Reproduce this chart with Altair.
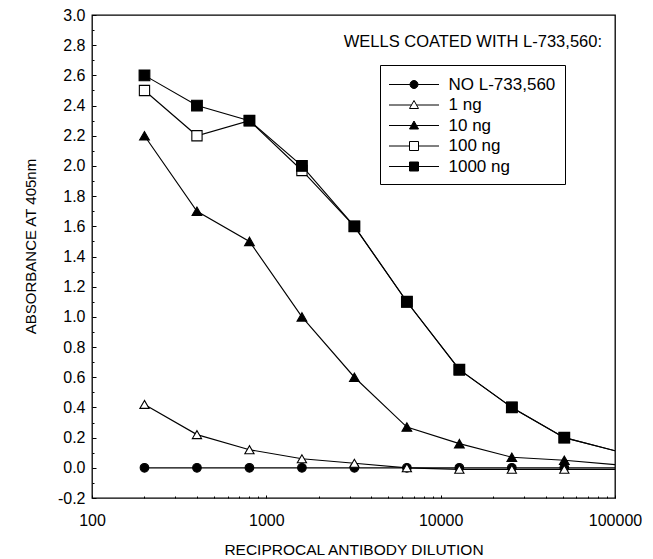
import altair as alt
import pandas as pd

# ---------------- data ----------------
DILUTIONS = [200, 400, 800, 1600, 3200, 6400, 12800, 25600, 51200]
EDGE_DILUTION = 102400  # next point of the series, beyond the right edge (lines run off the frame)

SERIES = ["NO L-733,560", "1 ng", "10 ng", "100 ng", "1000 ng"]
DRAW_ORDER = ["NO L-733,560", "10 ng", "1 ng", "100 ng", "1000 ng"]

NO_ANTIGEN = [0.0, 0.0, 0.0, 0.0, 0.0, 0.0, 0.0, 0.0, 0.0]
ONE_NG = [0.42, 0.22, 0.12, 0.06, 0.03, 0.0, -0.01, -0.01, -0.01]
TEN_NG = [2.2, 1.7, 1.5, 1.0, 0.6, 0.27, 0.16, 0.07, 0.05]
HUNDRED_NG = [2.5, 2.2, 2.3, 1.97, 1.6, 1.1, 0.65, 0.4, 0.2]
THOUSAND_NG = [2.6, 2.4, 2.3, 2.0, 1.6, 1.1, 0.65, 0.4, 0.2]
EDGE_VALUES = {"NO L-733,560": 0.0, "1 ng": -0.01, "10 ng": 0.02, "100 ng": 0.11, "1000 ng": 0.11}

VALUES = {
    "NO L-733,560": NO_ANTIGEN,
    "1 ng": ONE_NG,
    "10 ng": TEN_NG,
    "100 ng": HUNDRED_NG,
    "1000 ng": THOUSAND_NG,
}

X_MAJOR = [100, 1000, 10000, 100000]
X_MINOR = [200, 300, 400, 500, 600, 700, 800, 900,
           2000, 3000, 4000, 5000, 6000, 7000, 8000, 9000,
           20000, 30000, 40000, 50000, 60000, 70000, 80000, 90000]
Y_MAJOR = [-0.2, 0.0, 0.2, 0.4, 0.6, 0.8, 1.0, 1.2, 1.4, 1.6, 1.8, 2.0,
           2.2, 2.4, 2.6, 2.8, 3.0]
Y_MINOR = [-0.1, 0.1, 0.3, 0.5, 0.7, 0.9, 1.1, 1.3, 1.5, 1.7, 1.9, 2.1,
           2.3, 2.5, 2.7, 2.9]

X_TITLE = "RECIPROCAL ANTIBODY DILUTION"
Y_TITLE = "ABSORBANCE AT 405nm"
LEGEND_HEADER = "WELLS COATED WITH L-733,560:"

# ---------------- styles ----------------
FONT = "Liberation Sans"
SHAPES = ["circle", "triangle-up", "triangle-up", "square", "square"]
FILLS = ["black", "white", "black", "white", "black"]
SIZES = [75, 115, 115, 130, 130]
# legend symbols: marker with a line through it (unit = 10 px at size 400)
LEGEND_SHAPES = [
    "M-2.5,0L-0.4,0M0.4,0L2.5,0M-0.4,0A0.4,0.4,0,1,1,0.4,0A0.4,0.4,0,1,1,-0.4,0Z",
    "M-2.5,0L-0.25,0M0.25,0L2.5,0M0,-0.45L0.45,0.35L-0.45,0.35Z",
    "M-2.5,0L-0.25,0M0.25,0L2.5,0M0,-0.45L0.45,0.35L-0.45,0.35Z",
    "M-2.5,0L-0.45,0M0.45,0L2.5,0M-0.45,-0.45L0.45,-0.45L0.45,0.45L-0.45,0.45Z",
    "M-2.5,0L-0.45,0M0.45,0L2.5,0M-0.45,-0.45L0.45,-0.45L0.45,0.45L-0.45,0.45Z",
]
STROKES = ["black", "black", "black", "black", "black"]

# ---------------- tables ----------------
point_rows = []
for s in DRAW_ORDER:
    for d, v in zip(DILUTIONS, VALUES[s]):
        point_rows.append({"dilution": d, "absorbance": v, "series": s})
points_df = pd.DataFrame(point_rows)

line_rows = list(point_rows)
for s in DRAW_ORDER:
    line_rows.append({"dilution": EDGE_DILUTION, "absorbance": EDGE_VALUES[s], "series": s})
lines_df = pd.DataFrame(line_rows)

header_df = pd.DataFrame({"label": [LEGEND_HEADER]})

x_scale = alt.Scale(type="log", domain=[100, 100000], nice=False)
y_scale = alt.Scale(domain=[-0.2, 3.0], nice=False, zero=False)

major_x_axis = alt.Axis(
    values=X_MAJOR, format="d", title=X_TITLE, orient="bottom",
    tickSize=alt.ExprRef("-3"), labelPadding=17, labelFlush=False,
    domain=False, grid=False,
    labelFontSize=16, titleFontSize=15.5, titleFontWeight="normal",
    titleY=51, titleBaseline="middle",
)
major_y_axis = alt.Axis(
    values=Y_MAJOR, title=Y_TITLE, orient="left",
    labelExpr="replace(format(datum.value, '.1f'), '\u2212', '-')",
    tickSize=alt.ExprRef("-4"), labelPadding=11, domain=False, grid=False,
    labelFontSize=16, titleFontSize=15, titleFontWeight="normal",
    titleX=-62, titleY=231, titleBaseline="middle",
)
minor_x_axis = alt.Axis(values=X_MINOR, labels=False, title=None, orient="bottom",
                        tickSize=alt.ExprRef("-2"), domain=False, grid=False)
minor_y_axis = alt.Axis(values=Y_MINOR, labels=False, title=None, orient="left",
                        tickSize=alt.ExprRef("-2"), domain=False, grid=False)

lines = alt.Chart(lines_df).mark_line(color="black", strokeWidth=1.15, clip=True).encode(
    x=alt.X("dilution:Q", scale=x_scale, axis=major_x_axis),
    y=alt.Y("absorbance:Q", scale=y_scale, axis=major_y_axis),
    detail="series:N",
    order="dilution:Q",
)

points = alt.Chart(points_df).mark_point(
    stroke="black", strokeWidth=1.1, opacity=1, fillOpacity=1, clip=True
).encode(
    x=alt.X("dilution:Q", scale=x_scale, axis=None),
    y=alt.Y("absorbance:Q", scale=y_scale, axis=None),
    shape=alt.Shape("series:N", scale=alt.Scale(domain=SERIES, range=SHAPES), legend=None),
    fill=alt.Fill("series:N", scale=alt.Scale(domain=SERIES, range=FILLS), legend=None),
    size=alt.Size("series:N", scale=alt.Scale(domain=SERIES, range=SIZES), legend=None),
)

legend_props = dict(
    title=None, orient="none", legendX=288, legendY=50,
    strokeColor="black", fillColor="white", padding=9, cornerRadius=0,
    labelFont=FONT, labelFontSize=17, labelColor="black",
    symbolSize=400, symbolOffset=14.5, labelOffset=24,
    symbolStrokeColor="black", symbolStrokeWidth=1,
    rowPadding=1.5, labelLimit=300,
)

legend_layer = alt.Chart(points_df).mark_point(
    stroke="black", strokeWidth=1, opacity=1, fillOpacity=1, size=400
).encode(
    x=alt.X("dilution:Q", scale=x_scale, axis=minor_x_axis),
    y=alt.Y("absorbance:Q", scale=y_scale, axis=minor_y_axis),
    shape=alt.Shape("series:N", scale=alt.Scale(domain=SERIES, range=LEGEND_SHAPES),
                    legend=alt.Legend(**legend_props)),
    fill=alt.Fill("series:N", scale=alt.Scale(domain=SERIES, range=FILLS),
                  legend=alt.Legend(**legend_props)),
    stroke=alt.Stroke("series:N", scale=alt.Scale(domain=SERIES, range=STROKES),
                      legend=alt.Legend(**legend_props)),
).transform_filter("false")

header = alt.Chart(header_df).mark_text(
    align="right", baseline="middle", font=FONT, fontSize=16.5, color="black"
).encode(
    text="label:N",
    x=alt.value(510),
    y=alt.value(27),
)

chart = alt.layer(lines, points, legend_layer, header).resolve_scale(
    shape="independent", fill="independent", size="independent", stroke="independent"
).resolve_axis(
    x="independent", y="independent"
).properties(
    width=523, height=483,
    autosize=alt.AutoSizeParams(type="none"),
    padding={"left": 92, "top": 15, "right": 38, "bottom": 61},
    background="white",
).configure_view(
    stroke="black", strokeWidth=1.3
).configure_axis(
    labelFont=FONT, titleFont=FONT, labelColor="black", titleColor="black",
    tickColor="black", tickWidth=1,
)

chart.save("out.html", embed_options={"renderer": "svg", "actions": False})
